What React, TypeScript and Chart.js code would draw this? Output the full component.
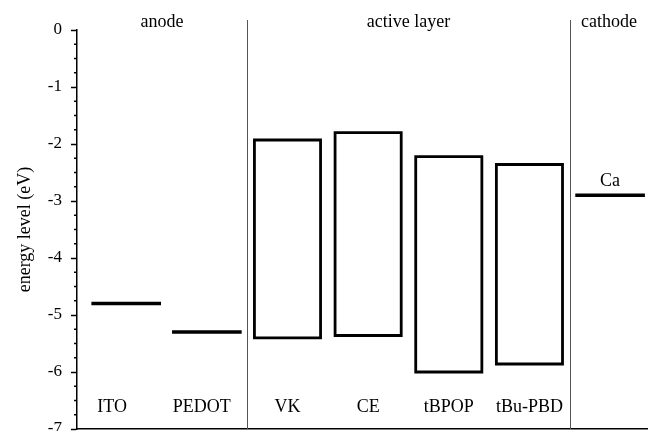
import React, { useEffect, useRef } from 'react';
import { Chart, registerables } from 'chart.js';

Chart.register(...registerables);

// ---- data ----
const materials = ['ITO', 'PEDOT', 'VK', 'CE', 'tBPOP', 'tBu-PBD', 'Ca'];
// upper level (LUMO / work function) in eV
const upperLevels = [-4.8, -5.3, -1.93, -1.8, -2.22, -2.36, -2.9];
// lower level (HOMO) in eV, null for single-level electrodes
const lowerLevels: (number | null)[] = [null, null, -5.4, -5.36, -6.0, -5.86, null];
const sectionNames = ['anode', 'active layer', 'cathode'];
const sectionFirstIndex = [0, 2, 6];
const yAxisTitle = 'energy level (eV)';
const yMin = -7;
const yMax = 0;
const yStep = 1;
const yMinorStep = 0.25;

// ---- layout / style ----
const FONT = "'Liberation Serif', 'Times New Roman', serif";
const W = 648;
const H = 450;
const X_OFFSET = 0.61;
const HALF = 0.41;
const X_MAX = 7.08;
const labelAbove = [false, false, false, false, false, false, true];
const labelNudgePx = [-14, -5, 0, 0, 0, 0, 0];

function buildDatasets() {
  return materials.map((name, i) => {
    const cx = i + X_OFFSET;
    const up = upperLevels[i];
    const lo = lowerLevels[i];
    const data =
      lo === null
        ? [
            { x: cx - HALF, y: up },
            { x: cx + HALF, y: up },
          ]
        : [
            { x: cx - HALF, y: up },
            { x: cx + HALF, y: up },
            { x: cx + HALF, y: lo },
            { x: cx - HALF, y: lo },
            { x: cx - HALF, y: up },
          ];
    return {
      label: name,
      data,
      showLine: true,
      borderColor: '#000',
      backgroundColor: '#000',
      borderWidth: lo === null ? 3.5 : 2.8,
      pointRadius: 0,
      pointHoverRadius: 0,
      tension: 0,
      fill: false,
      borderJoinStyle: 'miter' as const,
      borderCapStyle: 'square' as const,
    };
  });
}

const overlayPlugin = {
  id: 'overlay',
  afterDraw(chart: any) {
    const { ctx, chartArea, scales } = chart;
    const xs = scales.x;
    const ys = scales.y;
    ctx.save();
    // minor ticks
    ctx.strokeStyle = '#000';
    ctx.lineWidth = 1.5;
    for (let v = yMin; v <= yMax + 1e-9; v += yMinorStep) {
      if (Math.abs(v - Math.round(v)) < 1e-6) continue;
      const y = ys.getPixelForValue(v);
      ctx.beginPath();
      ctx.moveTo(chartArea.left - 3, y);
      ctx.lineTo(chartArea.left, y);
      ctx.stroke();
    }
    // section separators
    const bounds = [0];
    for (let s = 1; s < sectionFirstIndex.length; s++) {
      bounds.push(sectionFirstIndex[s] - 1 + X_OFFSET + 0.5);
    }
    bounds.push(X_MAX);
    ctx.strokeStyle = '#555';
    ctx.lineWidth = 1;
    for (let s = 1; s < bounds.length - 1; s++) {
      const x = Math.round(xs.getPixelForValue(bounds[s])) + 0.5;
      ctx.beginPath();
      ctx.moveTo(x, chartArea.top - 10);
      ctx.lineTo(x, chartArea.bottom);
      ctx.stroke();
    }
    // section names
    ctx.fillStyle = '#000';
    ctx.font = `18px ${FONT}`;
    ctx.textAlign = 'center';
    ctx.textBaseline = 'alphabetic';
    sectionNames.forEach((name, s) => {
      const x = (xs.getPixelForValue(bounds[s]) + xs.getPixelForValue(bounds[s + 1])) / 2;
      ctx.fillText(name, x, chartArea.top - 3);
    });
    // material names
    materials.forEach((name, i) => {
      const x = xs.getPixelForValue(i + X_OFFSET) + labelNudgePx[i];
      const y = labelAbove[i]
        ? ys.getPixelForValue(upperLevels[i]) - 9
        : chartArea.bottom - 17;
      ctx.fillText(name, x, y);
    });
    ctx.restore();
  },
};

export default function App() {
  const ref = useRef<HTMLCanvasElement | null>(null);
  useEffect(() => {
    if (!ref.current) return;
    const chart = new Chart(ref.current, {
      type: 'scatter',
      data: { datasets: buildDatasets() as any },
      options: {
        responsive: false,
        animation: false,
        devicePixelRatio: 1,
        layout: { padding: { top: 30, left: 0, right: 0, bottom: 0 } },
        plugins: { legend: { display: false }, tooltip: { enabled: false } },
        scales: {
          x: {
            type: 'linear',
            min: 0,
            max: X_MAX,
            ticks: { display: false },
            grid: { display: false },
            border: { display: true, color: '#000', width: 1.5 },
            afterFit: (s: any) => {
              s.height = 21;
            },
          },
          y: {
            type: 'linear',
            min: yMin,
            max: yMax,
            ticks: {
              stepSize: yStep,
              color: '#000',
              font: { family: FONT, size: 17 },
              padding: 9,
            },
            grid: {
              drawOnChartArea: false,
              drawTicks: true,
              tickLength: 6,
              tickColor: '#000',
              tickWidth: 1.5,
            },
            border: { display: true, color: '#000', width: 1.5 },
            title: {
              display: true,
              text: yAxisTitle,
              color: '#000',
              font: { family: FONT, size: 18 },
              padding: { top: 14, bottom: 0 },
            },
            afterFit: (s: any) => {
              s.width = 77;
            },
          },
        },
      },
      plugins: [overlayPlugin],
    });
    return () => chart.destroy();
  }, []);
  return (
    <div style={{ position: 'fixed', left: 0, top: 0, width: W, height: H, background: '#fff' }}>
      <canvas ref={ref} width={W} height={H} style={{ display: 'block' }} />
    </div>
  );
}
